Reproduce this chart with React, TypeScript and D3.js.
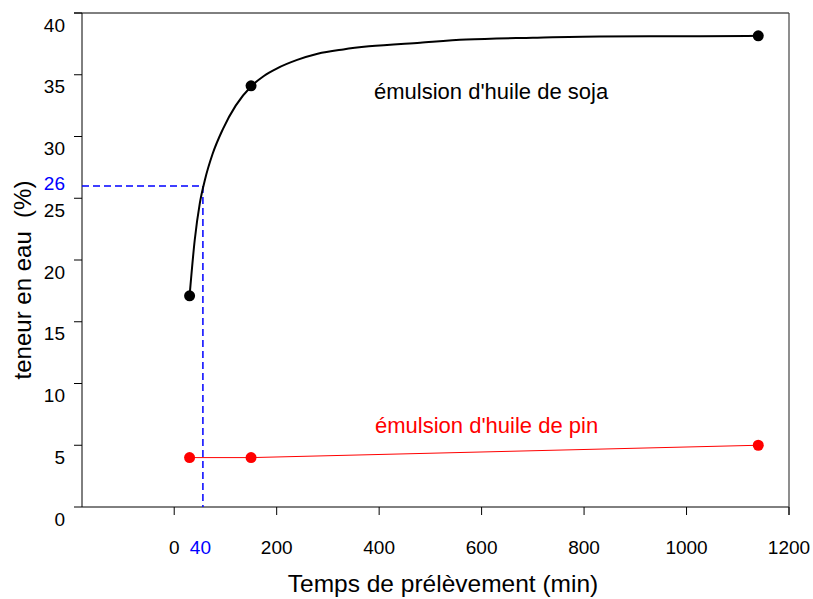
import React from "react";
import * as d3 from "d3";

// Measured points
const timeSoja = [30, 150, 1140];
const eauSoja = [17.1, 34.1, 38.15];
const timePin = [30, 150, 1140];
const eauPin = [4.0, 4.0, 5.0];

// Fitted curve for soja emulsion
const fitTime = [30, 40, 50, 60, 75, 95, 120, 150, 175, 200, 240, 280, 330, 380, 480, 570, 700, 830, 1026, 1140];
const fitEau = [17.1, 21.6, 24.6, 26.5, 28.6, 30.6, 32.5, 34.05, 34.9, 35.5, 36.2, 36.7, 37.05, 37.3, 37.6, 37.85, 38.0, 38.1, 38.12, 38.15];

const xTicks = [0, 200, 400, 600, 800, 1000, 1200];
const yTicks = [0, 5, 10, 15, 20, 25, 30, 35, 40];

const markTime = 56;
const markTimeLabel = "40";
const markEau = 26;
const markEauLabel = "26";

const labelSoja = "émulsion d'huile de soja";
const labelPin = "émulsion d'huile de pin";
const xTitle = "Temps de prélèvement (min)";
const yTitle = "teneur en eau  (%)";

const W = 813;
const H = 599;
const FONT = "Arial, 'Liberation Sans', Helvetica, sans-serif";

export default function App() {
  const x = d3.scaleLinear().domain([-180, 1200]).range([82, 789]);
  const y = d3.scaleLinear().domain([0, 40]).range([507, 13]);

  const fitLine = d3
    .line<number>()
    .x((_, i) => x(fitTime[i]))
    .y((d) => y(d))
    .curve(d3.curveMonotoneX);

  const pinLine = d3
    .line<number>()
    .x((_, i) => x(timePin[i]))
    .y((d) => y(d));

  const [x0, x1] = x.range();
  const [yb, yt] = y.range();

  return (
    <svg
      width={W}
      height={H}
      style={{ position: "absolute", left: 0, top: 0, background: "#fff" }}
      fontFamily={FONT}
    >
      <rect x={0} y={0} width={W} height={H} fill="#fff" />

      {/* frame */}
      <line x1={x0} y1={yt} x2={x0} y2={yb} stroke="#000" strokeWidth={1} />
      <line x1={x0} y1={yb} x2={x1} y2={yb} stroke="#000" strokeWidth={1} />
      <line x1={x0 - 8} y1={yt} x2={x1} y2={yt} stroke="#000" strokeWidth={1} />
      <line x1={x1} y1={yt} x2={x1} y2={yb + 8} stroke="#444" strokeWidth={1.2} />

      {/* y ticks */}
      {yTicks.map((v) => (
        <g key={"y" + v}>
          <line x1={x0 - 8} y1={y(v)} x2={x0} y2={y(v)} stroke="#000" strokeWidth={1} />
          <text x={65} y={y(v) + 18.5} textAnchor="end" fontSize={19} fill="#000">
            {v}
          </text>
        </g>
      ))}

      {/* x ticks */}
      {xTicks.map((v) => (
        <g key={"x" + v}>
          <line x1={x(v)} y1={yb} x2={x(v)} y2={yb + 8} stroke="#000" strokeWidth={1} />
          <text x={x(v)} y={554} textAnchor="middle" fontSize={19} fill="#000">
            {v}
          </text>
        </g>
      ))}

      {/* blue dashed guide */}
      <path
        d={`M${x0},${y(markEau)} H${x(markTime)} V${yb}`}
        fill="none"
        stroke="#0000ff"
        strokeWidth={1.5}
        strokeDasharray="7,4"
      />
      <text x={65} y={y(markEau) + 4.5} textAnchor="end" fontSize={19} fill="#0000ff">
        {markEauLabel}
      </text>
      <text x={x(markTime) - 2.5} y={554} textAnchor="middle" fontSize={19} fill="#0000ff">
        {markTimeLabel}
      </text>

      {/* soja fitted curve */}
      <path d={fitLine(fitEau) || ""} fill="none" stroke="#000" strokeWidth={2} />
      {eauSoja.map((v, i) => (
        <circle key={"s" + i} cx={x(timeSoja[i])} cy={y(v)} r={5.5} fill="#000" />
      ))}

      {/* pin line */}
      <path d={pinLine(eauPin) || ""} fill="none" stroke="#ff0000" strokeWidth={1} />
      {eauPin.map((v, i) => (
        <circle key={"p" + i} cx={x(timePin[i])} cy={y(v)} r={5.5} fill="#ff0000" />
      ))}

      {/* annotations */}
      <text x={x(390)} y={y(33.0)} fontSize={22} fill="#000">
        {labelSoja}
      </text>
      <text x={x(392)} y={y(6.0)} fontSize={22} fill="#ff0000">
        {labelPin}
      </text>

      {/* axis titles */}
      <text x={443} y={592} textAnchor="middle" fontSize={24.5} fill="#000">
        {xTitle}
      </text>
      <text
        transform={`translate(31,280) rotate(-90)`}
        textAnchor="middle"
        fontSize={24}
        fill="#000"
        style={{ whiteSpace: "pre" }}
      >
        {yTitle}
      </text>
    </svg>
  );
}
